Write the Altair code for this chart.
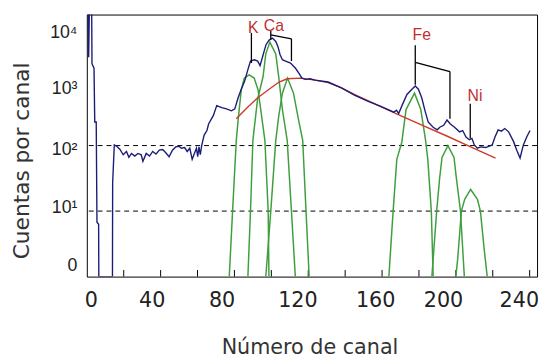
import altair as alt
import pandas as pd

# ---------------- data (channel, log10 counts) ----------------
blue_ch = [
    0.5, 1.0, 1.5, 2.6, 2.8, 3.9, 4.3, 5.1, 5.5, 6.4,
    6.5, 13.9, 14.0, 14.9, 16.2, 18.0, 19.7, 21.5, 22.8, 24.2,
    26.0, 27.7, 29.5, 30.4, 32.2, 34.0, 35.7, 37.5, 39.3, 41.1,
    42.8, 44.6, 46.4, 48.2, 50.0, 51.2, 53.0, 54.4, 55.8, 57.1,
    58.3, 59.4, 60.1, 60.8, 61.5, 62.2, 62.9, 63.6, 65.1, 66.0,
    68.6, 70.4, 73.1, 75.7, 78.4, 80.2, 82.0, 83.7, 85.5, 87.3,
    88.7, 90.8, 92.6, 93.9, 95.3, 97.1, 98.8, 100.6, 102.4, 103.6,
    104.7, 106.0, 107.7, 110.4, 113.1, 114.8, 116.6, 118.4, 121.0, 123.7,
    130.8, 138.0, 145.0, 152.2, 159.3, 166.4, 167.8, 169.0, 170.8, 173.5,
    176.2, 178.0, 179.7, 181.5, 183.3, 185.0, 187.7, 189.9, 191.3, 193.4,
    195.2, 197.0, 199.3, 202.0, 203.7, 205.5, 207.3, 208.7, 210.0, 211.7,
    213.5, 216.2, 219.7, 221.2, 222.9, 224.7, 226.5, 228.6, 231.3, 233.0,
    234.8, 236.6, 238.4, 240.2,
]
blue_L = [
    4.3, 3.35, 4.3, 4.3, 3.25, 3.18, 2.36, 2.36, 0.83, 0.8,
    0.0, 0.0, 1.43, 2.01, 1.99, 1.94, 1.86, 1.91, 1.82, 1.88,
    1.84, 1.88, 1.86, 1.76, 1.88, 1.84, 1.91, 1.87, 1.93, 1.94,
    1.89, 1.83, 1.93, 1.98, 1.99, 1.96, 1.97, 1.91, 1.96, 1.79,
    1.88, 1.96, 1.83, 1.98, 1.86, 1.99, 2.08, 2.16, 2.23, 2.33,
    2.46, 2.61, 2.58, 2.56, 2.53, 2.56, 2.73, 2.86, 2.98, 3.16,
    3.29, 3.31, 3.29, 3.22, 3.36, 3.54, 3.61, 3.64, 3.59, 3.51,
    3.39, 3.31, 3.29, 3.26, 3.18, 3.11, 3.03, 3.01, 3.02, 3.0,
    2.97, 2.88, 2.77, 2.68, 2.6, 2.51, 2.54, 2.49, 2.61, 2.78,
    2.86, 2.91, 2.86, 2.73, 2.53, 2.36, 2.28, 2.24, 2.28, 2.31,
    2.39, 2.33, 2.28, 2.21, 2.23, 2.13, 2.09, 2.11, 2.01, 1.96,
    1.98, 1.97, 2.01, 2.13, 2.24, 2.22, 2.26, 2.21, 2.06, 1.93,
    1.81, 2.01, 2.13, 2.23,
]

red_ch = [81, 87, 92.6, 98.8, 104.2, 108.6, 116, 123.7, 130.8, 138,
          145, 152, 159, 168.2, 181, 194.8, 208, 221.5]
red_L = [2.41, 2.58, 2.73, 2.86, 2.97, 3.02, 3.03, 3.0, 2.96, 2.88,
         2.78, 2.69, 2.6, 2.48, 2.32, 2.15, 1.98, 1.81]

k_ch = [77.2, 79.0, 81.0, 82.1, 83.7, 85.3, 88.0, 90.7, 92.8, 94.5, 96.5, 98.3, 98.7]
k_L = [0.0, 1.0, 2.08, 2.42, 2.85, 3.03, 3.08, 3.03, 2.85, 2.5, 2.08, 1.0, 0.0]

caa_ch = [87.3, 88.7, 90.0, 92.5, 95.5, 97.0, 99.2, 102.4, 104.0, 106.0, 108.6, 110.9, 113.0]
caa_L = [0.0, 1.0, 2.08, 2.7, 3.05, 3.4, 3.58, 3.4, 3.05, 2.55, 2.08, 1.0, 0.0]

cab_ch = [97.0, 99.7, 102.4, 104.0, 106.0, 108.8, 112.0, 114.7, 117.0, 118.8, 120.5]
cab_L = [0.0, 1.0, 2.08, 2.45, 2.8, 3.03, 2.8, 2.4, 2.08, 1.0, 0.0]

fea_ch = [163.7, 166.0, 168.0, 170.7, 173.0, 177.6, 181.0, 183.5, 184.8, 186.7, 187.7]
fea_L = [0.0, 1.0, 1.79, 2.05, 2.55, 2.8, 2.55, 2.1, 1.79, 1.0, 0.0]

feb_ch = [187.0, 189.6, 191.2, 192.5, 195.7, 199.0, 200.3, 202.5, 204.6]
feb_L = [0.0, 1.0, 1.5, 1.82, 2.0, 1.82, 1.5, 1.0, 0.0]

ni_ch = [200.0, 201.0, 203.0, 204.8, 208.0, 211.7, 213.3, 215.5, 217.0]
ni_L = [0.0, 0.27, 1.0, 1.18, 1.33, 1.18, 1.0, 0.38, 0.0]

# annotation brackets (segments) and element labels
seg_ch = [89.2, 99.7, 99.7, 110.9, 178.0, 178.0, 196.8, 207.8]
seg_ch2 = [89.2, 99.7, 110.9, 110.9, 178.0, 196.8, 196.8, 207.8]
seg_L = [3.26, 3.62, 3.69, 3.63, 2.93, 3.27, 3.13, 2.11]
seg_L2 = [3.72, 3.75, 3.63, 3.29, 3.53, 3.13, 2.41, 2.64]

elem_names = ["K", "Ca", "Fe", "Ni"]
elem_ch = [90.2, 101.4, 181.5, 210.4]
elem_L = [3.80, 3.82, 3.69, 2.76]

x_tick_marks = [20, 40, 60, 80, 100, 120, 140, 160, 180, 200, 220, 240]
x_label_values = [0, 40, 80, 120, 160, 200, 240]
x_label_shift = [4, -9, -13, -11, -7, -13, -11]
y_label_values = [0, 1, 2, 3, 4]
y_label_text = ["0\u00a0\u00a0", "10¹", "10²", "10³", "10⁴"]
y_label_shift = [-11, -4, 4, 9, 18]
dashed_levels = [1, 2]

# ---------------- frames ----------------
blue_df = pd.DataFrame({"ch": blue_ch, "L": blue_L})
blue_df["i"] = range(len(blue_df))
red_df = pd.DataFrame({"ch": red_ch, "L": red_L})
red_df["i"] = range(len(red_df))

green_parts = []
for name, cx, cy in [("K", k_ch, k_L), ("Ca_a", caa_ch, caa_L), ("Ca_b", cab_ch, cab_L),
                     ("Fe_a", fea_ch, fea_L), ("Fe_b", feb_ch, feb_L), ("Ni", ni_ch, ni_L)]:
    d = pd.DataFrame({"ch": cx, "L": cy})
    d["peak"] = name
    d["i"] = range(len(d))
    green_parts.append(d)
green_df = pd.concat(green_parts, ignore_index=True)

seg_df = pd.DataFrame({"ch": seg_ch, "ch2": seg_ch2, "L": seg_L, "L2": seg_L2})
elem_df = pd.DataFrame({"ch": elem_ch, "L": elem_L, "name": elem_names})
tick_df = pd.DataFrame({"ch": x_tick_marks, "L": [0] * len(x_tick_marks),
                        "L2": [0.1] * len(x_tick_marks)})
dash_df = pd.DataFrame({"L": dashed_levels})

# ---------------- scales / axes ----------------
x_expr = " : ".join(f"datum.value == {v} ? '{v}'" for v in x_label_values) + " : ''"
y_expr = " : ".join(f"datum.value == {v} ? '{t}'" for v, t in zip(y_label_values, y_label_text)) + " : ''"

x_off = {"condition": [{"test": f"datum.value == {v}", "value": s}
                       for v, s in zip(x_label_values, x_label_shift)], "value": 0}
y_off = {"condition": [{"test": f"datum.value == {v}", "value": s}
                       for v, s in zip(y_label_values, y_label_shift)], "value": 0}

xs = alt.Scale(domain=[0, 244], nice=False, zero=False)
ys = alt.Scale(domain=[0, 4], nice=False, zero=False)

x_axis = alt.Axis(values=x_label_values, labelExpr=x_expr, ticks=False, domain=False, grid=False,
                  labelFont="DejaVu Sans", labelFontSize=21, labelColor="#222222",
                  labelPadding=13, labelFlush=False, labelOverlap=False, labelOffset=x_off,
                  title="Número de canal", titleFont="DejaVu Sans", titleFontSize=21,
                  titleFontWeight="normal", titleColor="#333333", titleX=226, titleY=78,
                  titleBaseline="alphabetic", titleAlign="center")
y_axis = alt.Axis(values=y_label_values, labelExpr=y_expr, ticks=False, domain=False, grid=False,
                  labelFont="Liberation Sans", labelFontSize=18, labelColor="#222222",
                  labelPadding=10, labelAlign="right", labelBaseline="middle",
                  labelFlush=False, labelOverlap=False, labelOffset=y_off,
                  title="Cuentas por canal", titleFont="DejaVu Sans", titleFontSize=22,
                  titleFontWeight="normal", titleColor="#333333", titleX=-66, titleY=148,
                  titleBaseline="middle", titleAlign="center", titleAngle=270)

X = alt.X("ch:Q", scale=xs, axis=x_axis)
Y = alt.Y("L:Q", scale=ys, axis=y_axis)

dashed = alt.Chart(dash_df).mark_rule(color="black", strokeWidth=1, strokeDash=[5, 4]).encode(y=Y)
ticks = alt.Chart(tick_df).mark_rule(color="black", strokeWidth=1).encode(x=X, y=Y, y2="L2:Q")
green = alt.Chart(green_df).mark_line(color="#3f9f3f", strokeWidth=1.5, clip=True).encode(
    x=X, y=Y, detail="peak:N", order="i:Q")
red = alt.Chart(red_df).mark_line(color="#cc3a2a", strokeWidth=1.4, clip=True).encode(
    x=X, y=Y, order="i:Q")
blue = alt.Chart(blue_df).mark_line(color="#1c1c78", strokeWidth=1.4, clip=True).encode(
    x=X, y=Y, order="i:Q")
brackets = alt.Chart(seg_df).mark_rule(color="black", strokeWidth=1.3).encode(
    x=X, x2="ch2:Q", y=Y, y2="L2:Q")
labels = alt.Chart(elem_df).mark_text(color="#c03030", fontSize=16,
                                      font="'Liberation Sans Narrow', 'Liberation Sans'",
                                      align="center", baseline="middle").encode(
    x=X, y=Y, text="name:N")

chart = alt.layer(dashed, ticks, green, red, blue, brackets, labels).properties(
    width=457, height=266,
    autosize=alt.AutoSizeParams(type="none"),
    padding={"left": 80, "top": 4, "right": 3, "bottom": 82},
    background="white",
).configure_view(stroke="black", strokeWidth=1)

chart.save("out.html", embed_options={"renderer": "svg", "actions": False})
